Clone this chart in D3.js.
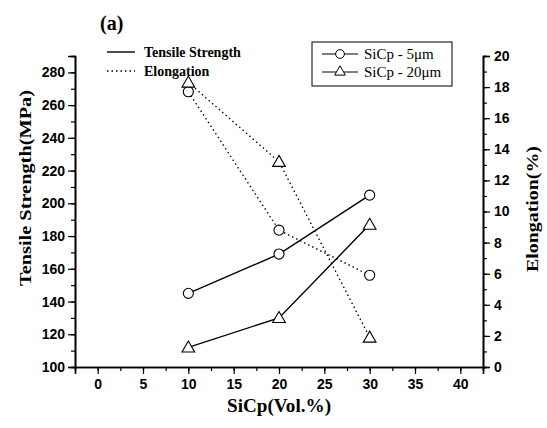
<!DOCTYPE html>
<html>
<head>
<meta charset="utf-8">
<script src="https://cdn.jsdelivr.net/npm/d3@7"></script>
<style>
  body { margin: 0; background: #fff; }
  svg { display: block; font-family: "Liberation Serif", "DejaVu Serif", serif; }
  .tick text { font-weight: bold; font-size: 14px; }
</style>
</head>
<body>
<svg id="chart" width="547" height="428"></svg>
<script>
// values
var volume = [10, 20, 30];
var strength5 = [145, 169, 205];
var strength20 = [112, 130, 187];
var elong5 = [17.7, 8.8, 5.9];
var elong20 = [18.3, 13.2, 1.9];

var xTicks = [0, 5, 10, 15, 20, 25, 30, 35, 40];
var leftTicks = [100, 120, 140, 160, 180, 200, 220, 240, 260, 280];
var rightTicks = [0, 2, 4, 6, 8, 10, 12, 14, 16, 18, 20];

var svg = d3.select('#chart');

// plot box (note: "top" is a reserved window prop, so prefixed names)
var pLeft = 75, pRight = 483, pTop = 56, pBottom = 367;

var x = d3.scaleLinear().domain([-2.5, 42.5]).range([pLeft, pRight]);
var yL = d3.scaleLinear().domain([100, 290]).range([pBottom, pTop]);
var yR = d3.scaleLinear().domain([0, 20]).range([pBottom, pTop]);

// minor ticks
var xMinor = d3.range(-2.5, 42.6, 2.5);
var lMinor = d3.range(100, 291, 10);
var rMinor = d3.range(0, 20.1, 1);

svg.append('g')
  .attr('transform', 'translate(0,' + pBottom + ')')
  .call(d3.axisBottom(x).tickValues(xMinor).tickSize(4).tickFormat(''));
svg.append('g')
  .attr('transform', 'translate(0,' + pBottom + ')')
  .call(d3.axisBottom(x).tickValues(xTicks).tickSize(7).tickPadding(5));

svg.append('g')
  .attr('transform', 'translate(' + pLeft + ',0)')
  .call(d3.axisLeft(yL).tickValues(lMinor).tickSize(4).tickFormat(''));
svg.append('g')
  .attr('transform', 'translate(' + pLeft + ',0)')
  .call(d3.axisLeft(yL).tickValues(leftTicks).tickSize(7).tickPadding(3));

svg.append('g')
  .attr('transform', 'translate(' + pRight + ',0)')
  .call(d3.axisRight(yR).tickValues(rMinor).tickSize(4).tickFormat(''));
svg.append('g')
  .attr('transform', 'translate(' + pRight + ',0)')
  .call(d3.axisRight(yR).tickValues(rightTicks).tickSize(7).tickPadding(4));

svg.selectAll('.domain').attr('stroke-width', 1.6);
svg.selectAll('.tick line').attr('stroke-width', 1.2);

// lines
var series = [
  {vals: strength5, y: yL, dash: null, mark: 'circle'},
  {vals: strength20, y: yL, dash: null, mark: 'triangle'},
  {vals: elong5, y: yR, dash: '1.5,3', mark: 'circle'},
  {vals: elong20, y: yR, dash: '1.5,3', mark: 'triangle'}
];

series.forEach(function(s){
  var pts = volume.map(function(v, i){ return [x(v), s.y(s.vals[i])]; });
  svg.append('path')
    .attr('d', d3.line()(pts))
    .attr('fill', 'none')
    .attr('stroke', '#000')
    .attr('stroke-width', s.dash ? 1.3 : 1.4)
    .attr('stroke-dasharray', s.dash);
  var sym = d3.symbol().type(s.mark == 'circle' ? d3.symbolCircle : d3.symbolTriangle).size(s.mark == 'circle' ? 80 : 70);
  svg.selectAll(null)
    .data(pts)
    .enter().append('path')
    .attr('d', sym)
    .attr('transform', function(d){ return 'translate(' + d[0] + ',' + (s.mark == 'triangle' ? d[1] + 1 : d[1]) + ')'; })
    .attr('fill', '#fff')
    .attr('stroke', '#000')
    .attr('stroke-width', 1.1);
});

// title
svg.append('text').attr('x', 100).attr('y', 30)
  .style('font-size', '20px').style('font-weight', 'bold').text('(a)');

// axis labels, stretched to the widths seen in the reference
svg.append('text')
  .attr('transform', 'translate(31,188) rotate(-90)')
  .attr('text-anchor', 'middle')
  .attr('textLength', 196).attr('lengthAdjust', 'spacingAndGlyphs')
  .style('font-size', '17px').style('font-weight', 'bold')
  .text('Tensile Strength(MPa)');
svg.append('text')
  .attr('transform', 'translate(538,209) rotate(-90)')
  .attr('text-anchor', 'middle')
  .attr('textLength', 126).attr('lengthAdjust', 'spacingAndGlyphs')
  .style('font-size', '17px').style('font-weight', 'bold')
  .text('Elongation(%)');
svg.append('text')
  .attr('x', (pLeft + pRight) / 2).attr('y', 412)
  .attr('text-anchor', 'middle')
  .attr('textLength', 104).attr('lengthAdjust', 'spacingAndGlyphs')
  .style('font-size', '18px').style('font-weight', 'bold')
  .text('SiCp(Vol.%)');

// legend for line styles
var lg = svg.append('g');
[['Tensile Strength', null], ['Elongation', '1.5,3']].forEach(function(d, i){
  var yy = 52 + i * 19;
  lg.append('line').attr('x1', 107).attr('x2', 135).attr('y1', yy).attr('y2', yy)
    .attr('stroke', '#000').attr('stroke-width', 1.4).attr('stroke-dasharray', d[1]);
  lg.append('text').attr('x', 144).attr('y', yy + 4.5)
    .style('font-size', '14px').style('font-weight', 'bold').text(d[0]);
});

// legend for particle size
var lg2 = svg.append('g');
lg2.append('rect').attr('x', 312).attr('y', 42).attr('width', 140).attr('height', 44)
  .attr('fill', 'none').attr('stroke', '#000').attr('stroke-width', 1);
[['SiCp - 5\u03bcm', d3.symbolCircle, 60], ['SiCp - 20\u03bcm', d3.symbolTriangle, 50]].forEach(function(d, i){
  var yy = 54 + i * 18;
  lg2.append('line').attr('x1', 322).attr('x2', 358).attr('y1', yy).attr('y2', yy)
    .attr('stroke', '#000').attr('stroke-width', 1.1);
  lg2.append('path').attr('d', d3.symbol().type(d[1]).size(d[2]))
    .attr('transform', 'translate(340,' + yy + ')')
    .attr('fill', '#fff').attr('stroke', '#000').attr('stroke-width', 1);
  lg2.append('text').attr('x', 364).attr('y', yy + 5)
    .style('font-size', '15px').text(d[0]);
});
</script>
</body>
</html>
